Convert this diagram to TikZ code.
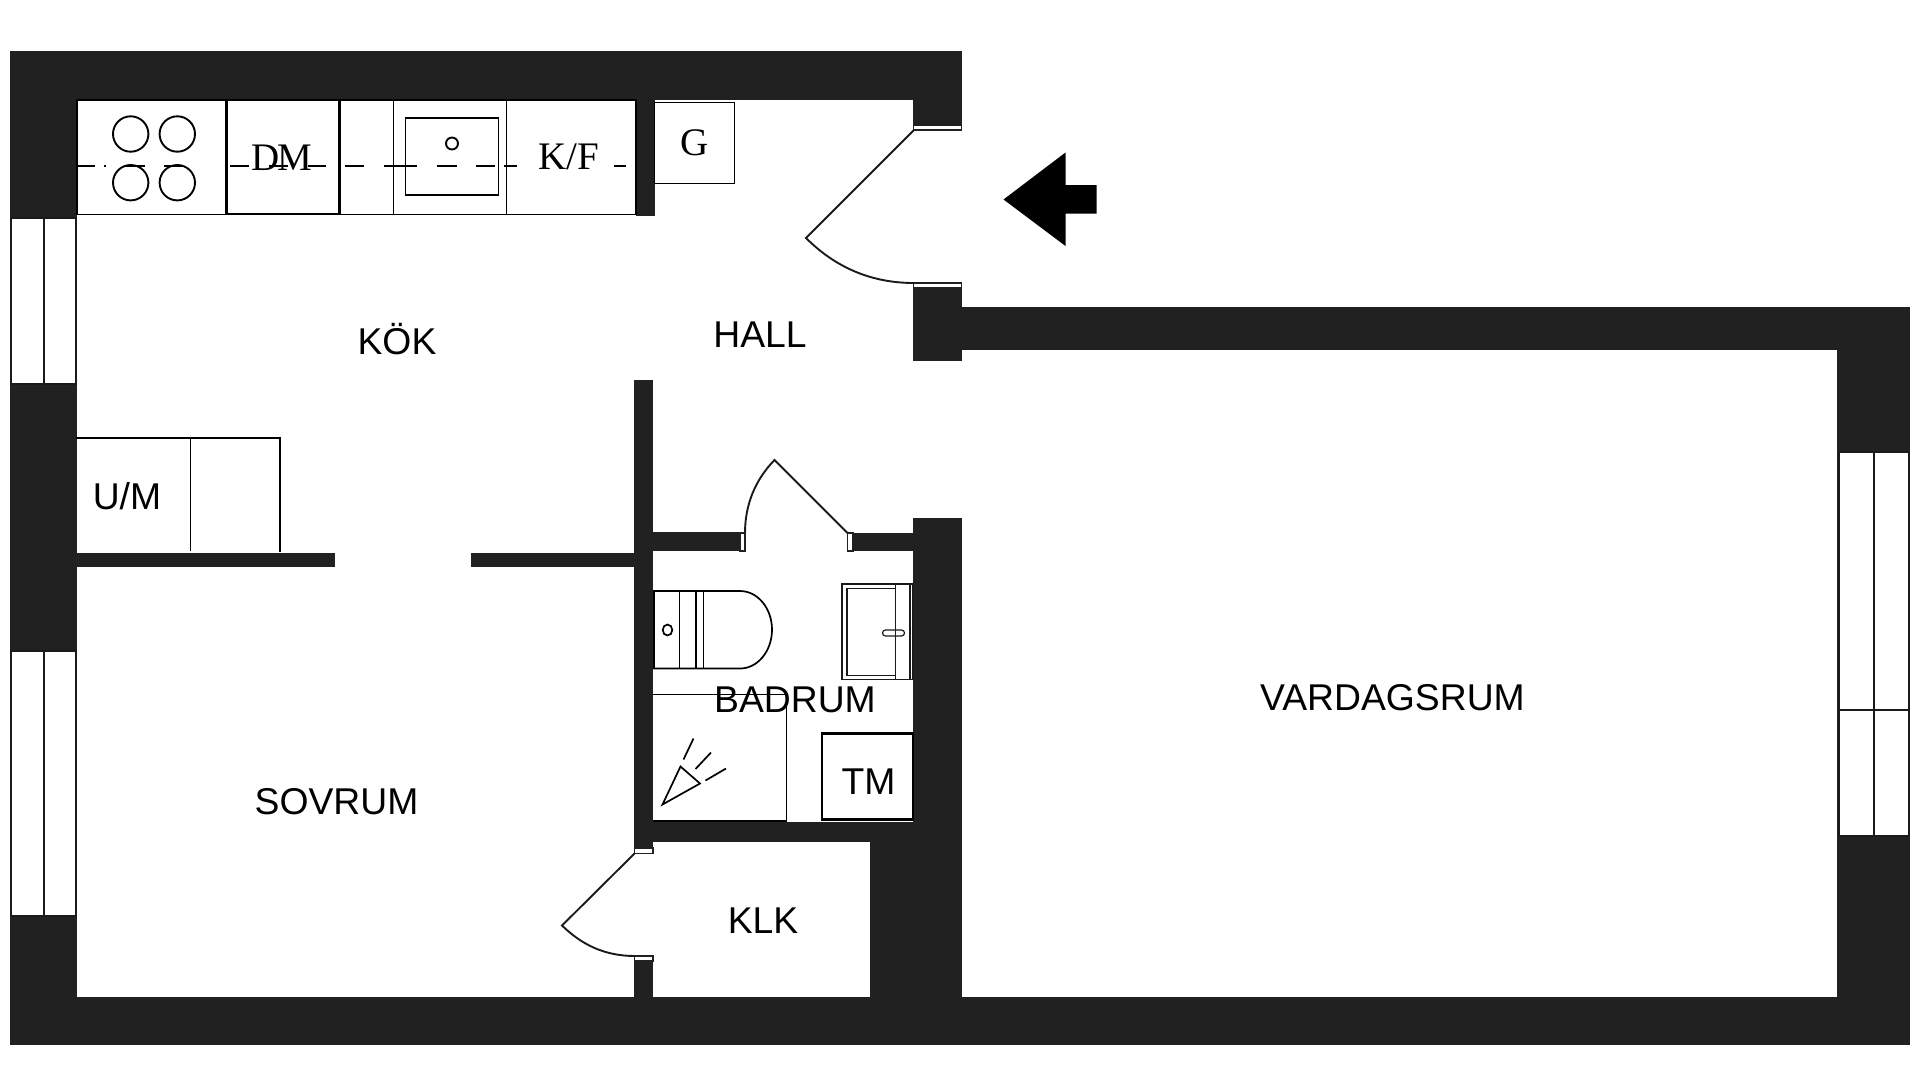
\documentclass[tikz,border=0pt]{standalone}
\usepackage{fontspec}
\setmainfont{Liberation Sans}
\newfontfamily\fixtureserif{Liberation Serif}
\usetikzlibrary{positioning}
\definecolor{wallgray}{HTML}{212121}
\definecolor{linegray}{HTML}{1A1A1A}
\newcommand{\wallblock}[4]
{
	\fill[wallgray] (#1,#2) rectangle (#3,#4);
}
\newcommand{\sill}[4]
{
	\draw[fill=white, draw=wallgray, line width=1.2pt] (#1,#2) rectangle (#3,#4);
}
\tikzset{
	fixture/.style={draw=black, line width=1.7pt},
	windowline/.style={draw=linegray, line width=2pt},
	thinline/.style={draw=black, line width=1.2pt},
	doorleaf/.style={draw=linegray, line width=1.9pt},
	room/.style={inner sep=0pt, anchor=base, font=\fontsize{37.3}{37.3}\selectfont},
	serifmark/.style={inner sep=0pt, anchor=base, font=\fixtureserif\fontsize{39}{39}\selectfont}
}
\begin{document}
\begin{tikzpicture}[x=1pt, y=-1pt]

	\useasboundingbox (0,0) rectangle (1920,1088);

	\wallblock{10}{51}{962}{99.5}
	\wallblock{913}{99}{962}{125}
	\wallblock{10}{51}{76.5}{1044.5}
	\wallblock{10}{996.5}{1910}{1044.5}
	\wallblock{1837}{307}{1910}{1044.5}
	\wallblock{962}{307}{1910}{350}
	\wallblock{913}{288}{962}{361}
	\wallblock{636}{99}{655}{216}
	\wallblock{634}{380}{653}{848}
	\wallblock{634}{961}{653}{997}
	\wallblock{76}{552.5}{335}{567}
	\wallblock{471}{552.5}{634}{567}
	\wallblock{653}{532}{740}{551}
	\wallblock{853}{533}{913}{551}
	\wallblock{913}{518}{962}{997}
	\wallblock{653}{821.5}{913}{842}
	\wallblock{870}{842}{913}{997}

	\draw[windowline, fill=white] (11,218) rectangle (75.5,384);
	\draw[windowline] (43.5,218) -- (43.5,384);
	\draw[windowline, fill=white] (11,651) rectangle (75.5,916);
	\draw[windowline] (43.5,651) -- (43.5,916);
	\draw[windowline, fill=white] (1838.5,452) rectangle (1909,836);
	\draw[windowline] (1873.7,452) -- (1873.7,836);
	\draw[windowline] (1838.5,710) -- (1909,710);

	\sill{913.5}{125}{961.5}{130}
	\sill{913.5}{283}{961.5}{288}
	\sill{740}{533}{745}{551}
	\sill{847.5}{533}{853}{551}
	\sill{634.5}{848}{653}{853.5}
	\sill{634.5}{956}{653}{961}

	\draw[doorleaf] (914,130) -- (806,238) .. controls (836,268) and (872,283) .. (914,283);
	\draw[doorleaf] (847.5,533) -- (774.5,460) .. controls (755,480) and (745,505) .. (745,533);
	\draw[doorleaf] (635,853) -- (562,925.5) .. controls (582,945) and (605,956) .. (635,956);

	\fill[black] (1003.5,199.5) -- (1065.5,152.5) -- (1065.5,185) -- (1096.5,185) -- (1096.5,213.5) -- (1065.5,213.5) -- (1065.5,246) -- cycle;

	\draw[fixture] (77,100) rectangle (636,214.5);
	\draw[fixture, line width=2.2pt] (226.5,100) rectangle (339.5,214);
	\foreach \xdiv in {393.5,506.5}
		\draw[fixture] (\xdiv,100) -- (\xdiv,214);
	\draw[fixture] (405.5,118) rectangle (498.5,195);
	\draw[fixture, line width=1.9pt] (452,143.5) circle (6);
	\foreach \xhob in {130.7,177.3}
		\foreach \yhob in {134,182.7}
			\draw[fixture, line width=1.9pt] (\xhob,\yhob) circle (17.7);
	\foreach \xa/\xb in {77/95,104/106,126/145,164/183,230/249,269/288,308/326,345/364,384/417,437/457,476/495,504/517,614/626}
		\draw[fixture] (\xa,166.3) -- (\xb,166.3);
	\draw[fixture] (654.5,102.5) rectangle (734.5,183.5);

	\draw[fixture] (76,438) -- (280,438) -- (280,552);
	\draw[fixture] (190.5,438) -- (190.5,551);

	\draw[fixture] (654,591) -- (740,591) .. controls (757.7,591) and (772,608.3) .. (772,629.7) .. controls (772,651) and (757.7,668.5) .. (740,668.5) -- (654,668.5) -- cycle;
	\foreach \xdiv in {679.5,696,703.5}
		\draw[fixture] (\xdiv,591) -- (\xdiv,668.5);
	\draw[fixture] (667.5,630) ellipse (4.8 and 5.5);

	\draw[thinline, draw=linegray] (842,584) rectangle (913,679.5);
	\draw[thinline, draw=linegray] (847,588.5) rectangle (895.5,675.5);
	\draw[thinline, draw=linegray] (895.5,584) -- (895.5,679.5);
	\draw[thinline, draw=linegray] (910,584) -- (910,679.5);
	\draw[thinline, draw=linegray, rounded corners=3pt] (882.5,630) rectangle (904.5,636);

	\draw[thinline] (653,694.5) -- (786.5,694.5) -- (786.5,821);
	\draw[fixture] (653,821) -- (786.5,821);
	\draw[fixture] (662.5,804.5) -- (680.5,766.5) -- (700,783.5) -- cycle;
	\draw[fixture] (683.5,759.5) -- (693.5,738.5);
	\draw[fixture] (695.5,769) -- (711,752.5);
	\draw[fixture] (705.5,780.5) -- (726,768.5);
	\draw[draw=black, line width=2.6pt] (822,733.5) rectangle (913,819.5);

	\node[room] (kok) at (397,354) {KÖK};
	\node[room] (hall) at (760,347) {HALL};
	\node[room] (um) at (127,509) {U/M};
	\node[room] (sovrum) at (336.5,814) {SOVRUM};
	\node[room] (badrum) at (795,712) {BADRUM};
	\node[room] (tm) at (868.5,794) {TM};
	\node[room] (klk) at (763,933) {KLK};
	\node[room] (vardagsrum) at (1392.5,710) {VARDAGSRUM};
	\node[serifmark] (dm) at (282,170) {D\kern-2ptM};
	\node[serifmark] (kf) at (569,169) {K/F};
	\node[serifmark] (g) at (694.5,155.5) {G};

\end{tikzpicture}
\end{document}
